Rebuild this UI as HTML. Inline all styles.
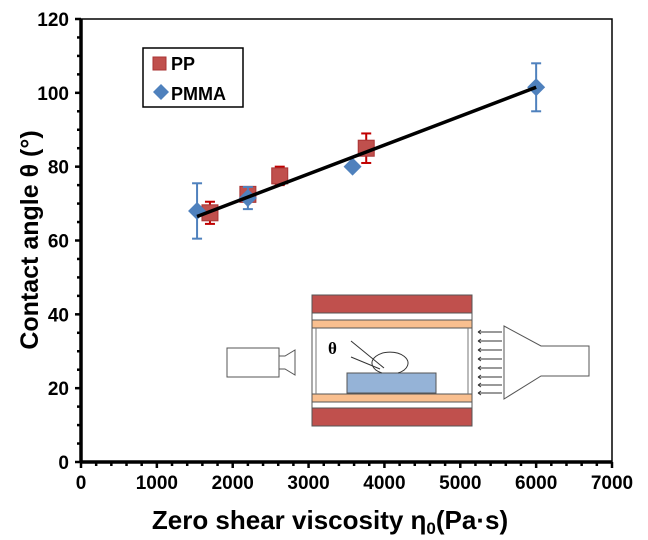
<!DOCTYPE html>
<html><head><meta charset="utf-8"><style>
body{margin:0;background:#fff;}
svg{display:block;font-family:"Liberation Sans",Arial,sans-serif;}
</style></head><body>
<svg id="chart" width="648" height="540" viewBox="0 0 648 540">
<rect x="0" y="0" width="648" height="540" fill="#fff"/>
<g id="axes"></g>
<g id="marks"></g>
<g id="legend">
  <rect x="143" y="48" width="100" height="59" fill="#fff" stroke="#000" stroke-width="1.5"/>
  <rect x="153" y="57" width="13" height="13" fill="#c0504d" stroke="#a33"/>
  <text x="171" y="70" font-size="18" font-weight="bold">PP</text>
  <path d="M161,84 l8,8 l-8,8 l-8,-8z" fill="#4f81bd"/>
  <text x="171" y="100" font-size="18" font-weight="bold">PMMA</text>
</g>
<g id="diagram">
  <rect x="227" y="348" width="52" height="29" fill="#fff" stroke="#555"/>
  <path d="M279,356 h6 l10,-6 v25 l-10,-6 h-6z" fill="#fff" stroke="#555"/>
  <rect x="312" y="295" width="160" height="131" fill="#fff" stroke="#555"/>
  <rect x="312" y="295" width="160" height="18" fill="#c0504d" stroke="#555"/>
  <rect x="312" y="408" width="160" height="18" fill="#c0504d" stroke="#555"/>
  <rect x="312" y="320" width="160" height="8" fill="#f9bf8f" stroke="#555"/>
  <rect x="312" y="394" width="160" height="8" fill="#f9bf8f" stroke="#555"/>
  <line x1="316" y1="328" x2="316" y2="394" stroke="#777"/>
  <line x1="468" y1="328" x2="468" y2="394" stroke="#777"/>
  <rect x="347" y="373" width="89" height="20" fill="#95b3d7" stroke="#555"/>
  <path d="M382,373 a18,11 0 1 1 16,0" fill="none" stroke="#333"/>
  <line x1="351" y1="357" x2="380" y2="369" stroke="#333"/>
  <line x1="351" y1="341" x2="384" y2="368" stroke="#333"/>
  <text x="328" y="354" font-family="Liberation Serif,serif" font-size="17" font-weight="bold">θ</text>
  <path d="M504,326 L541,346 H589 V376 H541 L504,399z" fill="#fff" stroke="#555"/>
  <g stroke="#333" stroke-width="1">
    <path d="M478,332h24M478,341h24M478,350h24M478,359h24M478,368h24M478,377h24M478,385h24M478,393h24"/>
    <path d="M478,332l3,-2M478,332l3,2M478,341l3,-2M478,341l3,2M478,350l3,-2M478,350l3,2M478,359l3,-2M478,359l3,2M478,368l3,-2M478,368l3,2M478,377l3,-2M478,377l3,2M478,385l3,-2M478,385l3,2M478,393l3,-2M478,393l3,2"/>
  </g>
</g>
<text x="0" y="0" transform="translate(38,240) rotate(-90)" text-anchor="middle" font-size="25" font-weight="bold">Contact angle θ (°)</text>
<text x="330" y="529" text-anchor="middle" font-size="26" font-weight="bold">Zero shear viscosity  η<tspan font-size="17" dy="5">0</tspan><tspan dy="-5">(Pa·s)</tspan></text>
</svg>
<script>
const xTicks=[0,1000,2000,3000,4000,5000,6000,7000];
const yTicks=[0,20,40,60,80,100,120];
const ppX=[1700,2200,2620,3760];
const ppY=[67.5,72.5,77.5,85];
const ppErr=[3,1,2.5,4];
const pmmaX=[1530,2200,3580,6000];
const pmmaY=[68,71.5,80,101.5];
const pmmaErr=[7.5,3,0,6.5];
const fitX=[1530,6000];
const fitY=[66.5,101.5];
const NS='http://www.w3.org/2000/svg';
const X0=81,X1=612,Y0=462,Y1=19;
const xs=v=>X0+(v-0)/7000*(X1-X0);
const ys=v=>Y0-(v-0)/120*(Y0-Y1);
function mk(tag,attrs,parent){const e=document.createElementNS(NS,tag);for(const k in attrs)e.setAttribute(k,attrs[k]);parent.appendChild(e);return e;}
const ax=document.getElementById('axes'),mg=document.getElementById('marks');
let fr=mk('rect',{x:X0,y:Y1,width:X1-X0,height:Y0-Y1,fill:'none',stroke:'#000','stroke-width':1.5},ax);


mk('line',{x1:X0,y1:Y0,x2:X1,y2:Y0,stroke:'#000','stroke-width':3.5},ax);
mk('line',{x1:X0,y1:Y0,x2:X0,y2:Y1,stroke:'#000','stroke-width':3.5},ax);
for(let i=0;i<xTicks.length;i++){
  const x=xs(xTicks[i]);
  mk('line',{x1:x,y1:Y0,x2:x,y2:Y0+6,stroke:'#000','stroke-width':2.5},ax);
  if(i<xTicks.length-1){for(let k=1;k<5;k++){const xm=xs(xTicks[i]+k*200);mk('line',{x1:xm,y1:Y0,x2:xm,y2:Y0+4,stroke:'#000','stroke-width':2.5},ax);}}
  const t=mk('text',{x:x,y:Y0+27,'text-anchor':'middle','font-size':19,'font-weight':'bold'},ax);
  t.textContent=xTicks[i];
  
  
}
for(let i=0;i<yTicks.length;i++){
  const y=ys(yTicks[i]);
  mk('line',{x1:X0-6,y1:y,x2:X0,y2:y,stroke:'#000','stroke-width':2.5},ax);
  if(i<yTicks.length-1){for(let k=1;k<4;k++){const ym=ys(yTicks[i]+k*5);mk('line',{x1:X0-4,y1:ym,x2:X0,y2:ym,stroke:'#000','stroke-width':2.5},ax);}}
  const t=mk('text',{x:X0-12,y:y+7,'text-anchor':'end','font-size':19,'font-weight':'bold'},ax);
  t.textContent=yTicks[i];
  
  
}
function err(x,y,e,col){
  if(!e)return;
  const g=mk('g',{stroke:col,'stroke-width':2},mg);
  
  
  const px=xs(x);
  mk('line',{x1:px,y1:ys(y-e),x2:px,y2:ys(y+e)},g);
  mk('line',{x1:px-5,y1:ys(y-e),x2:px+5,y2:ys(y-e)},g);
  mk('line',{x1:px-5,y1:ys(y+e),x2:px+5,y2:ys(y+e)},g);
}
for(let i=0;i<ppX.length;i++){
  err(ppX[i],ppY[i],ppErr[i],'#c00000');
  const r=mk('rect',{x:xs(ppX[i])-8,y:ys(ppY[i])-8,width:16,height:16,fill:'#c0504d',stroke:'#a33'},mg);
  
  
}
for(let i=0;i<pmmaX.length;i++){
  err(pmmaX[i],pmmaY[i],pmmaErr[i],'#4f81bd');
  const px=xs(pmmaX[i]),py=ys(pmmaY[i]);
  const d=mk('path',{d:`M${px},${py-9} l9,9 l-9,9 l-9,-9z`,fill:'#4f81bd'},mg);
  
  
}
const fl=mk('line',{x1:xs(fitX[0]),y1:ys(fitY[0]),x2:xs(fitX[1]),y2:ys(fitY[1]),stroke:'#000','stroke-width':3.5},mg);


</script>
</body></html>
